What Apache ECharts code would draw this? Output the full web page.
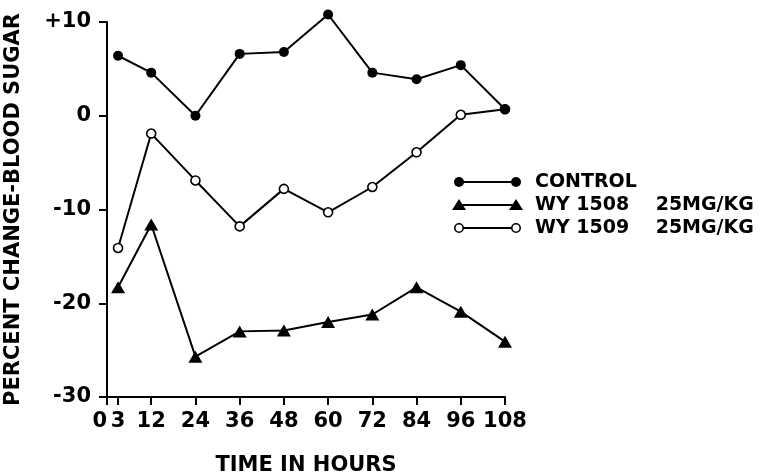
<!DOCTYPE html>
<html>
<head>
<meta charset="utf-8">
<script src="https://cdn.jsdelivr.net/npm/echarts@6/dist/echarts.min.js"></script>
<style>html,body{margin:0;padding:0;background:#fff;}#c{width:767px;height:474px;}</style>
</head>
<body>
<div id="c"></div>
<script>
const hours = [3, 12, 24, 36, 48, 60, 72, 84, 96, 108];
const xTickValues = [0, 3, 12, 24, 36, 48, 60, 72, 84, 96, 108];
const yTickValues = [-30, -20, -10, 0, 10];
const control = [6.4, 4.6, 0.0, 6.6, 6.8, 10.8, 4.6, 3.9, 5.4, 0.7];
const wy1508 = [-18.3, -11.6, -25.7, -23.0, -22.9, -22.0, -21.2, -18.3, -20.9, -24.1];
const wy1509 = [-14.1, -1.9, -6.9, -11.8, -7.8, -10.3, -7.6, -3.9, 0.1, 0.7];
const seriesNames = ['CONTROL', 'WY 1508    25MG/KG', 'WY 1509    25MG/KG'];

const FONT = 'DejaVu Sans';
const pair = arr => hours.map((h, i) => [h, arr[i]]);

const chart = echarts.init(document.getElementById('c'));

function legendRow(y, symbol, label) {
  const x1 = 459, x2 = 516;
  const els = [{
    type: 'line', shape: {x1: x1, y1: y, x2: x2, y2: y},
    style: {stroke: '#000', lineWidth: 2}
  }];
  [x1, x2].forEach(x => {
    if (symbol === 'circle') {
      els.push({type: 'circle', shape: {cx: x, cy: y, r: 5}, style: {fill: '#000'}});
    } else if (symbol === 'empty') {
      els.push({type: 'circle', shape: {cx: x, cy: y, r: 4.2}, style: {fill: '#fff', stroke: '#000', lineWidth: 1.6}});
    } else {
      els.push({type: 'polygon', shape: {points: [[x, y - 6], [x - 7, y + 5], [x + 7, y + 5]]}, style: {fill: '#000'}});
    }
  });
  els.push({
    type: 'text', x: 535, y: y,
    style: {text: label, font: 'bold 19px "' + FONT + '"', fill: '#000', verticalAlign: 'middle', align: 'left'}
  });
  return els;
}

chart.setOption({
  backgroundColor: '#fff',
  animation: false,
  grid: {left: 107, right: 262, top: 22, bottom: 77, containLabel: false, outerBoundsMode: 'none'},
  xAxis: {
    type: 'value', min: 0, max: 108,
    name: 'TIME IN HOURS', nameLocation: 'middle', nameGap: 58,
    nameTextStyle: {fontFamily: FONT, fontWeight: 'bold', fontSize: 21, color: '#000'},
    axisLine: {onZero: false, lineStyle: {color: '#000', width: 2}},
    axisTick: {show: true, customValues: xTickValues, length: 8, lineStyle: {color: '#000', width: 2}},
    axisLabel: {
      customValues: xTickValues, margin: 14, color: '#000',
      fontFamily: FONT, fontWeight: 'bold', fontSize: 21,
      alignMinLabel: 'right'
    },
    splitLine: {show: false}
  },
  yAxis: {
    type: 'value', min: -30, max: 10, interval: 10,
    name: 'PERCENT CHANGE-BLOOD SUGAR', nameLocation: 'middle', nameGap: 83,
    nameTextStyle: {fontFamily: FONT, fontWeight: 'bold', fontSize: 21, color: '#000'},
    axisLine: {show: true, lineStyle: {color: '#000', width: 2}},
    axisTick: {show: true, length: 8, lineStyle: {color: '#000', width: 2}},
    axisLabel: {
      margin: 16, color: '#000', fontFamily: FONT, fontWeight: 'bold', fontSize: 21,
      formatter: v => v > 0 ? '+' + v : String(v)
    },
    splitLine: {show: false}
  },
  series: [
    {
      name: seriesNames[2], type: 'line', data: pair(wy1509), clip: false,
      symbol: 'circle', symbolSize: 9,
      itemStyle: {color: '#fff', borderColor: '#000', borderWidth: 1.6},
      lineStyle: {color: '#000', width: 2}, z: 2
    },
    {
      name: seriesNames[1], type: 'line', data: pair(wy1508), clip: false,
      symbol: 'triangle', symbolSize: [14, 12],
      itemStyle: {color: '#000'},
      lineStyle: {color: '#000', width: 2}, z: 2
    },
    {
      name: seriesNames[0], type: 'line', data: pair(control), clip: false,
      symbol: 'circle', symbolSize: 10,
      itemStyle: {color: '#000'},
      lineStyle: {color: '#000', width: 2}, z: 3
    }
  ],
  graphic: [].concat(
    legendRow(182, 'circle', seriesNames[0]),
    legendRow(205, 'triangle', seriesNames[1]),
    legendRow(228, 'empty', seriesNames[2])
  )
});
</script>
</body>
</html>
